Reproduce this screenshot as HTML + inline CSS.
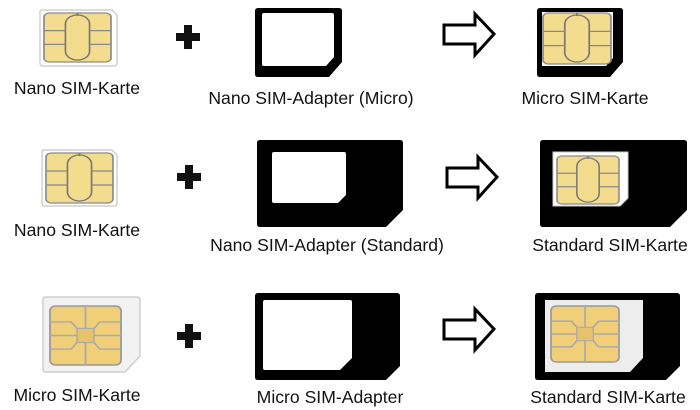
<!DOCTYPE html>
<html><head><meta charset="utf-8"><style>
html,body{margin:0;padding:0;background:#fff;}
svg{display:block;}
text{font-family:"Liberation Sans",sans-serif;font-size:17.6px;fill:#111;}
</style></head><body>
<svg width="700" height="410" viewBox="0 0 700 410" xmlns="http://www.w3.org/2000/svg">
<defs>
<g id="chipC">
 <rect x="0" y="0" width="100" height="100" rx="8" fill="#f4dc8e" stroke="#8a8a8a" stroke-width="2.5"/>
 <rect x="32" y="4" width="36" height="92" rx="18" fill="none" stroke="#777" stroke-width="2.5"/>
 <line x1="0" y1="36" x2="32" y2="36" stroke="#888" stroke-width="2.5"/>
 <line x1="0" y1="64" x2="32" y2="64" stroke="#888" stroke-width="2.5"/>
 <line x1="68" y1="36" x2="100" y2="36" stroke="#888" stroke-width="2.5"/>
 <line x1="68" y1="64" x2="100" y2="64" stroke="#888" stroke-width="2.5"/>
 <line x1="50" y1="0" x2="50" y2="6" stroke="#777" stroke-width="2.5"/>
</g>
<g id="chipS">
 <rect x="0" y="0" width="100" height="100" rx="8" fill="#f0cf78" stroke="#999" stroke-width="2.5"/>
 <rect x="38" y="38" width="24" height="24" fill="#e6c26a" stroke="#aaa" stroke-width="2"/>
 <path d="M0 27 H30 L38 38 M0 50 H38 M0 73 H30 L38 62 M100 27 H70 L62 38 M100 50 H62 M100 73 H70 L62 62 M50 0 V38 M50 62 V100" fill="none" stroke="#aaa" stroke-width="2.5"/>
</g>
<path id="arrow" d="M0 11 H31 V0 L50 20 L31 41 V30 H0 Z" fill="#fff" stroke="#000" stroke-width="3" stroke-linejoin="miter"/>
<path id="plus" d="M-4 -12 H4 V-4 H12 V4 H4 V12 H-4 V4 H-12 V-4 H-4 Z" fill="#111"/>
</defs>

<!-- Row 1 -->
<path d="M40 12 Q40 10 42 10 H112 L117 15 V63 Q117 66 114 66 H43 Q40 66 40 63 Z" fill="#fff" stroke="#d0d0d0" stroke-width="1.5"/>
<g transform="translate(44,13) scale(0.67,0.49)"><use href="#chipC"/></g>
<text x="77" y="94" text-anchor="middle">Nano SIM-Karte</text>
<use href="#plus" transform="translate(188,37)"/>
<path d="M258 8 H339 Q342 8 342 11 V62 L329 77 H258 Q255 77 255 74 V11 Q255 8 258 8 Z M264 13 Q262 13 262 15 V64 Q262 66 264 66 H326 L334 57 V15 Q334 13 332 13 Z" fill="#000" fill-rule="evenodd"/>
<text x="311" y="104" text-anchor="middle">Nano SIM-Adapter (Micro)</text>
<use href="#arrow" transform="translate(444,14)"/>
<path d="M540 8 H620 Q623 8 623 11 V62 L610 77 H540 Q537 77 537 74 V11 Q537 8 540 8 Z" fill="#000"/>
<path d="M542 12 H613 V58 L606 66 H542 Z" fill="#fff"/>
<g transform="translate(543,13) scale(0.68,0.51)"><use href="#chipC"/></g>
<text x="585" y="104" text-anchor="middle">Micro SIM-Karte</text>

<!-- Row 2 -->
<path d="M42 152 Q42 150 44 150 H112 L117 155 V203 Q117 206 114 206 H45 Q42 206 42 203 Z" fill="#fff" stroke="#d0d0d0" stroke-width="1.5"/>
<g transform="translate(46,153) scale(0.67,0.5)"><use href="#chipC"/></g>
<text x="77" y="236" text-anchor="middle">Nano SIM-Karte</text>
<use href="#plus" transform="translate(189,177)"/>
<path d="M260 140 H400 Q403 140 403 143 V210 L386 227 H260 Q257 227 257 224 V143 Q257 140 260 140 Z M274 152 Q272 152 272 154 V201 Q272 203 274 203 H338 L346 195 V154 Q346 152 344 152 Z" fill="#000" fill-rule="evenodd"/>
<text x="327" y="251" text-anchor="middle">Nano SIM-Adapter (Standard)</text>
<use href="#arrow" transform="translate(447,157)"/>
<path d="M543 140 H684 Q687 140 687 143 V210 L670 227 H543 Q540 227 540 224 V143 Q540 140 543 140 Z" fill="#000"/>
<path d="M553 152 H628 V198 L620 206 H553 Z" fill="#fff" stroke="#ccc" stroke-width="1"/>
<g transform="translate(557,156) scale(0.62,0.48)"><use href="#chipC"/></g>
<text x="610" y="251" text-anchor="middle">Standard SIM-Karte</text>

<!-- Row 3 -->
<path d="M46 297 H137 Q140 297 140 300 V356 L125 372 H46 Q43 372 43 369 V300 Q43 297 46 297 Z" fill="#f2f2f2" stroke="#cfcfcf" stroke-width="1.5"/>
<g transform="translate(50,306) scale(0.71,0.59)"><use href="#chipS"/></g>
<text x="77" y="401" text-anchor="middle">Micro SIM-Karte</text>
<use href="#plus" transform="translate(189,336)"/>
<path d="M258 293 H397 Q400 293 400 296 V366 L386 380 H258 Q255 380 255 377 V296 Q255 293 258 293 Z M265 300 Q263 300 263 302 V368 Q263 370 265 370 H340 L352 358 V302 Q352 300 350 300 Z" fill="#000" fill-rule="evenodd"/>
<text x="330" y="403" text-anchor="middle">Micro SIM-Adapter</text>
<use href="#arrow" transform="translate(444,309)"/>
<path d="M538 293 H677 Q680 293 680 296 V366 L666 380 H538 Q535 380 535 377 V296 Q535 293 538 293 Z" fill="#000"/>
<path d="M545 300 H643 V358 L630 372 H545 Z" fill="#ededed"/>
<g transform="translate(551,306) scale(0.68,0.56)"><use href="#chipS"/></g>
<text x="608" y="403" text-anchor="middle">Standard SIM-Karte</text>
</svg>
</body></html>
